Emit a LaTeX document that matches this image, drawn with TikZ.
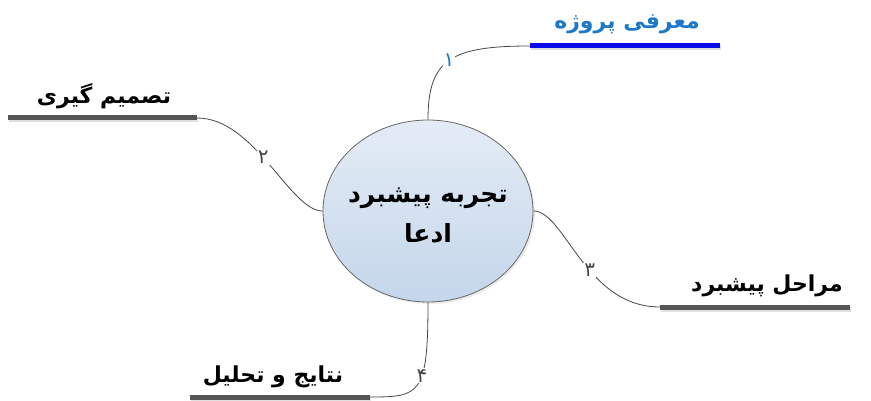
\documentclass[tikz,border=0pt]{standalone}
\usepackage{fontspec}
\usepackage{tikz}
\usetikzlibrary{shapes.geometric,shadows}
\TeXXeTstate=1
\newfontfamily\farsi[Script=Arabic]{DejaVu Sans}
\definecolor{titleblue}{RGB}{30,120,200}
\definecolor{barblue}{RGB}{10,10,235}
\definecolor{bargray}{RGB}{85,85,85}
\definecolor{edgegray}{RGB}{70,70,70}
\definecolor{fillhi}{RGB}{228,236,246}
\definecolor{filllo}{RGB}{196,214,234}
\tikzset{
  bar/.style={line width=5pt, bargray,
    preaction={draw, black!12, line width=5pt, transform canvas={xshift=1pt, yshift=-2pt}}},
  branch/.style={line width=0.8pt, edgegray},
  num/.style={fill=white, inner sep=1pt, font=\farsi\fontsize{20}{20}\selectfont},
  title/.style={font=\farsi\bfseries\fontsize{22}{24}\selectfont}
}
\begin{document}
\begin{tikzpicture}[x=1pt, y=-1pt]
\useasboundingbox (0,0) rectangle (871,401);
\draw (428,211) node[ellipse, draw=black!60, line width=0.8pt, minimum width=210pt, minimum height=182pt,
    inner sep=0pt, top color=fillhi, bottom color=filllo,
    drop shadow={opacity=0.15, shadow xshift=2pt, shadow yshift=-2pt}](c){}
    (428,216) node[align=center, font=\farsi\bfseries\fontsize{25}{40}\selectfont](ct){\beginR تجربه پیشبرد\endR\\\beginR ادعا\endR}
    (627,24) node[title, text=titleblue](t1){\beginR معرفی پروژه\endR}
    (104,96) node[title](t2){\beginR تصمیم گیری\endR}
    (767,286) node[title](t3){\beginR مراحل پیشبرد\endR}
    (273,377) node[title](t4){\beginR نتایج و تحلیل\endR};
\coordinate (l1a) at (530,46);
\coordinate (l1b) at (720,46);
\coordinate (l2a) at (8,118);
\coordinate (l2b) at (197,118);
\coordinate (l3a) at (660,307);
\coordinate (l3b) at (850,307);
\coordinate (l4a) at (190,397);
\coordinate (l4b) at (370,397);
\draw [bar, barblue] (l1a) -- (l1b);
\draw [bar] (l2a) -- (l2b);
\draw [bar] (l3a) -- (l3b);
\draw [bar] (l4a) -- (l4b);
\draw [branch] (c.north) .. controls (428,60) and (450,46) .. (l1a) node[num, pos=0.5, text=titleblue] {\beginR ۱\endR};
\draw [branch] (l2b) .. controls (255,118) and (290,211) .. (c.west) node[num, pos=0.45] {\beginR ۲\endR};
\draw [branch] (c.east) .. controls (565,211) and (585,307) .. (l3a) node[num, pos=0.58] {\beginR ۳\endR};
\draw [branch] (c.south) .. controls (428,395) and (420,397) .. (l4b) node[num, pos=0.4] {\beginR ۴\endR};
\end{tikzpicture}
\end{document}
